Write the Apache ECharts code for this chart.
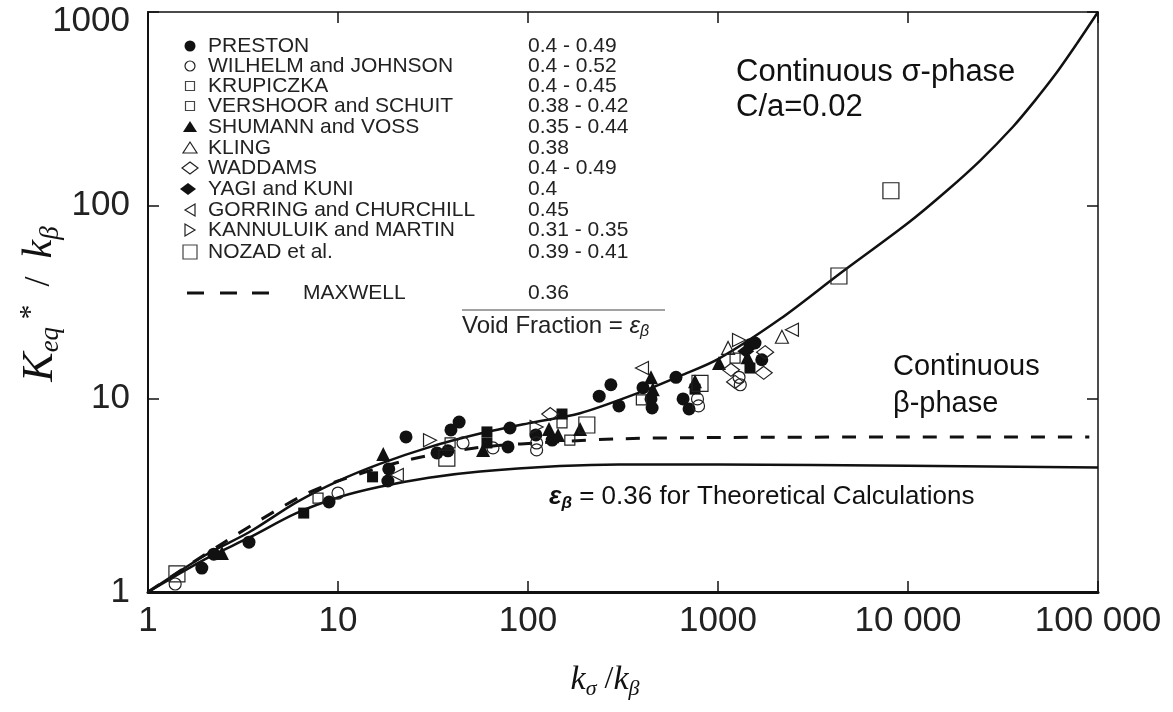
<!DOCTYPE html>
<html>
<head>
<meta charset="utf-8">
<script src="https://cdn.jsdelivr.net/npm/echarts@6/dist/echarts.min.js"></script>
<style>
  html, body { margin: 0; padding: 0; background: #fff; }
  #chart { width: 1173px; height: 712px; }
</style>
</head>
<body>
<div id="chart"></div>
<script>
// tick values of the two log axes
const xTicks = [1, 10, 100, 1000, 10000, 100000];
const yTicks = [1, 10, 100, 1000];

// theoretical curves [k_sigma/k_beta, K_eq*/k_beta]
const sigmaCurve = [[1, 1], [2, 1.55], [3.44, 2.05], [6, 2.9], [10, 3.75], [16.6, 4.6], [30, 5.6],
  [56, 6.6], [100, 7.45], [188, 8.4], [400, 10.9], [631, 13.1], [1000, 16], [2120, 25.8],
  [4335, 44], [10000, 81], [16000, 119], [23900, 170], [35700, 255], [46000, 343],
  [59400, 473], [76600, 676], [100000, 1000]];
const thetaCurve = [[1, 1], [2, 1.48], [3.44, 1.92], [6, 2.55], [10.2, 3.1], [16.6, 3.5], [30, 3.9],
  [56, 4.2], [147, 4.48], [300, 4.57], [1000, 4.57], [10000, 4.5], [100000, 4.4]];
const maxwellCurve = [[1, 1], [2.5, 1.8], [6.3, 3.1], [10, 3.75], [23, 4.8], [56, 5.6], [150, 6.0],
  [300, 6.2], [1000, 6.3], [10000, 6.33], [90000, 6.33]];

// experimental points
const preston = [[1.92, 1.33], [2.22, 1.57], [3.4, 1.81], [8.97, 2.92], [18.5, 4.33], [18.3, 3.75],
  [22.8, 6.34], [33.2, 5.24], [37.9, 5.37], [39.3, 6.89], [43.4, 7.57], [80.4, 7.05], [78.5, 5.63],
  [110, 6.49], [134, 6.11], [237, 10.3], [273, 11.8], [301, 9.17], [403, 11.4], [444, 9.97],
  [450, 8.95], [601, 12.9], [655, 9.97], [704, 8.85], [1473, 19.0], [1566, 19.4], [1700, 15.9]];
const wilhelm = [[1.39, 1.1], [10, 3.25], [45.5, 5.9], [65.4, 5.56], [111, 5.9], [111, 5.43],
  [780, 9.97], [790, 9.17], [1290, 12.9], [1310, 11.8]];
const krupiczka = [[7.85, 3.06], [38.9, 5.9], [151, 7.49], [166, 6.11], [395, 9.85], [1230, 16.2]];
const vershoor = [[6.6, 2.56], [15.2, 3.94], [60.8, 6.73], [60.8, 5.9], [151, 8.33], [757, 11.2], [1473, 14.4]];
const shumann = [[2.45, 1.59], [17.3, 5.18], [58, 5.43], [129, 6.97], [144, 6.49], [188, 6.97],
  [444, 12.9], [454, 11.2], [757, 12.3], [1012, 15.3], [1430, 16.4]];
const kling = [[1130, 18.3], [2170, 20.9]];
const waddams = [[131, 8.33], [1170, 14.1], [1230, 12.2], [1770, 17.4], [1740, 13.6]];
const yagi = [[1400, 17.6]];
const gorring = [[20.4, 4.03], [398, 14.4], [2450, 22.7]];
const kannuluik = [[30.5, 6.1], [111, 7.14], [1290, 20.1]];
const nozad = [[1.42, 1.24], [37.4, 4.93], [204, 7.31], [804, 12.0], [4330, 43.1], [8130, 119]];

// legend texts
const studyNames = ['PRESTON', 'WILHELM and JOHNSON', 'KRUPICZKA', 'VERSHOOR and SCHUIT',
  'SHUMANN and VOSS', 'KLING', 'WADDAMS', 'YAGI and KUNI', 'GORRING and CHURCHILL',
  'KANNULUIK and MARTIN', 'NOZAD et al.'];
const voidFractions = ['0.4 - 0.49', '0.4 - 0.52', '0.4 - 0.45', '0.38 - 0.42', '0.35 - 0.44',
  '0.38', '0.4 - 0.49', '0.4', '0.45', '0.31 - 0.35', '0.39 - 0.41'];
const maxwellLabel = 'MAXWELL';
const maxwellVoid = '0.36';

const SANS = "'Liberation Sans', Arial, Helvetica, sans-serif";
const SERIF = "'Liberation Serif', 'Times New Roman', serif";
const INK = '#111';

const chart = echarts.init(document.getElementById('chart'));

function fmtTick(v) {
  const r = Math.round(v);
  return r >= 10000 ? String(r).replace(/\B(?=(\d{3})+(?!\d))/g, ' ') : String(r);
}

// the top y label sits a bit lower so it stays on the page
function fmtYTick(v) {
  const r = Math.round(v);
  return r === yTicks[yTicks.length - 1] ? '{top|' + r + '}' : String(r);
}

function scatter(name, data, symbol, size, filled, opts) {
  return Object.assign({
    name: name,
    type: 'scatter',
    data: data,
    symbol: symbol,
    symbolSize: size,
    itemStyle: filled
      ? { color: INK, borderColor: INK, borderWidth: 0, opacity: 1 }
      : { color: 'rgba(0,0,0,0)', borderColor: '#222', borderWidth: 1.2, opacity: 1 },
    z: 3
  }, opts || {});
}

function curve(name, data, dashed) {
  return {
    name: name,
    type: 'line',
    data: data,
    showSymbol: false,
    smooth: 0.3,
    lineStyle: { color: INK, width: dashed ? 3 : 2.5, type: dashed ? [14, 13] : 'solid' },
    z: 2,
    silent: true
  };
}

// legend drawn as graphic elements
const rowY = [46, 66, 86, 106, 127, 148, 168, 189, 210, 230, 252];
const markKinds = ['dot', 'ring', 'sq', 'sq', 'tri', 'otri', 'odia', 'dia', 'ltri', 'rtri', 'bigsq'];

function legendMark(kind, cx, cy) {
  const hollow = { fill: 'none', stroke: '#222', lineWidth: 1.2 };
  switch (kind) {
    case 'dot': return { type: 'circle', shape: { cx: cx, cy: cy, r: 5.5 }, style: { fill: INK } };
    case 'ring': return { type: 'circle', shape: { cx: cx, cy: cy, r: 5 }, style: hollow };
    case 'sq': return { type: 'rect', shape: { x: cx - 4.5, y: cy - 4.5, width: 9, height: 9 }, style: { fill: 'none', stroke: '#444', lineWidth: 1.2 } };
    case 'bigsq': return { type: 'rect', shape: { x: cx - 7, y: cy - 7, width: 14, height: 14 }, style: { fill: 'none', stroke: '#444', lineWidth: 1.2 } };
    case 'tri': return { type: 'polygon', shape: { points: [[cx, cy - 6], [cx + 7, cy + 5], [cx - 7, cy + 5]] }, style: { fill: INK } };
    case 'otri': return { type: 'polygon', shape: { points: [[cx, cy - 6], [cx + 7, cy + 5], [cx - 7, cy + 5]] }, style: hollow };
    case 'odia': return { type: 'polygon', shape: { points: [[cx, cy - 6], [cx + 8, cy], [cx, cy + 6], [cx - 8, cy]] }, style: hollow };
    case 'dia': return { type: 'polygon', shape: { points: [[cx - 2, cy - 6], [cx + 6, cy], [cx - 2, cy + 6], [cx - 10, cy]] }, style: { fill: INK } };
    case 'ltri': return { type: 'polygon', shape: { points: [[cx - 5, cy], [cx + 5, cy - 6], [cx + 5, cy + 6]] }, style: hollow };
    case 'rtri': return { type: 'polygon', shape: { points: [[cx + 5, cy], [cx - 5, cy - 6], [cx - 5, cy + 6]] }, style: hollow };
  }
}

const LEGEND_FONT = '21px ' + SANS;
const graphics = [];
studyNames.forEach(function (n, i) {
  graphics.push(legendMark(markKinds[i], 190, rowY[i]));
  graphics.push({ type: 'text', x: 208, y: rowY[i], style: { text: n, font: LEGEND_FONT, fill: '#222', textVerticalAlign: 'middle' } });
  graphics.push({ type: 'text', x: 528, y: rowY[i], style: { text: voidFractions[i], font: LEGEND_FONT, fill: '#222', textVerticalAlign: 'middle' } });
});
[187, 220, 252].forEach(function (x0) {
  graphics.push({ type: 'line', shape: { x1: x0, y1: 293, x2: x0 + 17, y2: 293 }, style: { stroke: INK, lineWidth: 3 } });
});
graphics.push({ type: 'text', x: 303, y: 293, style: { text: maxwellLabel, font: LEGEND_FONT, fill: '#222', textVerticalAlign: 'middle' } });
graphics.push({ type: 'text', x: 528, y: 293, style: { text: maxwellVoid, font: LEGEND_FONT, fill: '#222', textVerticalAlign: 'middle' } });
graphics.push({ type: 'line', shape: { x1: 462, y1: 310, x2: 665, y2: 310 }, style: { stroke: '#444', lineWidth: 1 } });
graphics.push({
  type: 'text', x: 462, y: 326,
  style: {
    text: '{n|Void Fraction = }{e|ε}{s|β}',
    textVerticalAlign: 'middle',
    rich: {
      n: { font: '24px ' + SANS, fill: '#222', lineHeight: 28 },
      e: { font: 'italic 24px ' + SANS, fill: '#222', lineHeight: 28 },
      s: { font: 'italic 16px ' + SANS, fill: '#222', lineHeight: 14, verticalAlign: 'bottom' }
    }
  }
});

// annotations
const NOTE_FONT = '31px ' + SANS;
graphics.push({ type: 'text', x: 736, y: 72, style: { text: 'Continuous σ-phase', font: NOTE_FONT, fill: INK, textVerticalAlign: 'middle' } });
graphics.push({ type: 'text', x: 736, y: 107, style: { text: 'C/a=0.02', font: NOTE_FONT, fill: INK, textVerticalAlign: 'middle' } });
graphics.push({ type: 'text', x: 893, y: 367, style: { text: 'Continuous', font: '29px ' + SANS, fill: INK, textVerticalAlign: 'middle' } });
graphics.push({ type: 'text', x: 893, y: 404, style: { text: 'β-phase', font: '29px ' + SANS, fill: INK, textVerticalAlign: 'middle' } });
graphics.push({
  type: 'text', x: 549, y: 497,
  style: {
    text: '{e|ε}{s|β}{n| = 0.36 for Theoretical Calculations}',
    textVerticalAlign: 'middle',
    rich: {
      n: { font: '26px ' + SANS, fill: INK, lineHeight: 30 },
      e: { font: 'italic bold 26px ' + SANS, fill: INK, lineHeight: 30 },
      s: { font: 'italic bold 17px ' + SANS, fill: INK, lineHeight: 14, verticalAlign: 'bottom' }
    }
  }
});

// axis titles
graphics.push({
  type: 'text', x: 40, y: 304, rotation: Math.PI / 2,
  style: {
    text: '{k|K}{sub|eq}{sup| *}{n|  /  }{k2|k}{sub|β}',
    textAlign: 'center', textVerticalAlign: 'middle',
    rich: {
      k: { font: 'italic 44px ' + SERIF, fill: INK, lineHeight: 48 },
      sub: { font: 'italic 27px ' + SERIF, fill: INK, lineHeight: 26, verticalAlign: 'bottom' },
      sup: { font: '30px ' + SERIF, fill: INK, lineHeight: 26, verticalAlign: 'top' },
      n: { font: '36px ' + SERIF, fill: INK, lineHeight: 48 },
      k2: { font: 'italic 42px ' + SERIF, fill: INK, lineHeight: 48 }
    }
  }
});
graphics.push({
  type: 'text', x: 605, y: 680,
  style: {
    text: '{k|k}{sub|σ}{n| /}{k|k}{sub|β}',
    textAlign: 'center', textVerticalAlign: 'middle',
    rich: {
      k: { font: 'italic 34px ' + SERIF, fill: INK, lineHeight: 40 },
      sub: { font: 'italic 22px ' + SERIF, fill: INK, lineHeight: 22, verticalAlign: 'bottom' },
      n: { font: '32px ' + SERIF, fill: INK, lineHeight: 40 }
    }
  }
});

function logAxis(pos, ticks, showLabel, lineW) {
  const vertical = pos === 'left' || pos === 'right';
  return {
    type: 'log',
    logBase: 10,
    position: pos,
    min: ticks[0],
    max: ticks[ticks.length - 1],
    axisLine: { show: true, onZero: false, lineStyle: { color: INK, width: lineW } },
    axisTick: { show: true, inside: true, length: 11, lineStyle: { color: INK, width: 1.5 } },
    minorTick: { show: false },
    splitLine: { show: false },
    axisLabel: {
      show: showLabel,
      formatter: vertical ? fmtYTick : fmtTick,
      fontFamily: SANS,
      fontSize: 35,
      color: '#222',
      margin: pos === 'bottom' ? 12 : 18,
      rich: {
        top: { fontFamily: SANS, fontSize: 35, color: '#222', padding: [18, 0, 0, 0] }
      }
    }
  };
}

chart.setOption({
  animation: false,
  backgroundColor: '#fff',
  grid: { left: 148, right: 75, top: 12, bottom: 120, containLabel: false, outerBoundsMode: 'none' },
  xAxis: [logAxis('bottom', xTicks, true, 3), logAxis('top', xTicks, false, 1.5)],
  yAxis: [logAxis('left', yTicks, true, 2), logAxis('right', yTicks, false, 1.5)],
  series: [
    curve('sigma', sigmaCurve, false),
    curve('theory', thetaCurve, false),
    curve('MAXWELL', maxwellCurve, true),
    scatter(studyNames[0], preston, 'circle', 13, true),
    scatter(studyNames[1], wilhelm, 'circle', 12, false),
    scatter(studyNames[2], krupiczka, 'rect', 10, false),
    scatter(studyNames[3], vershoor, 'rect', 11, true),
    scatter(studyNames[4], shumann, 'triangle', 14, true),
    scatter(studyNames[5], kling, 'triangle', 13, false),
    scatter(studyNames[6], waddams, 'diamond', [17, 13], false),
    scatter(studyNames[7], yagi, 'diamond', [17, 13], true),
    scatter(studyNames[8], gorring, 'triangle', 13, false, { symbolRotate: 90 }),
    scatter(studyNames[9], kannuluik, 'triangle', 13, false, { symbolRotate: -90 }),
    scatter(studyNames[10], nozad, 'rect', 16, false)
  ],
  graphic: graphics
});
</script>
</body>
</html>
